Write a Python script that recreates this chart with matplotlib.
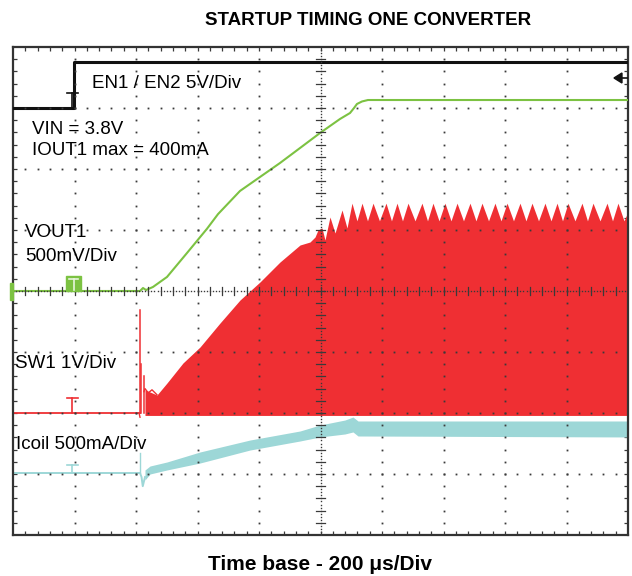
import numpy as np
import matplotlib.pyplot as plt
from matplotlib.patches import Rectangle, Polygon

plt.rcParams['font.family'] = ['Liberation Sans', 'DejaVu Sans']

# scope screen is 10 x 8 divisions, all values read off the capture in divisions
# EN1 / EN2 (black)
en_x = [0.0, 0.99, 0.99, 10.0]
en_y = [7.0, 7.0, 7.75, 7.75]

# VOUT1 (green)
vout_x = [0.0, 2.065, 2.114, 2.163, 2.276, 2.504, 2.829, 3.154, 3.333, 3.691,
          4.341, 4.667, 4.992, 5.317, 5.480, 5.545, 5.593, 5.675, 5.772, 10.0]
vout_y = [4.0, 4.0, 4.049, 4.016, 4.066, 4.230, 4.623, 5.020, 5.260, 5.640,
          6.098, 6.344, 6.590, 6.820, 6.918, 7.0, 7.066, 7.107, 7.131, 7.131]

# SW1 (red) - upper envelope of the switching node, baseline at 2 div
sw_base = 2.0
sw_x = [2.146, 2.228, 2.341, 2.504, 2.764, 3.041, 3.366, 3.691, 4.016, 4.341,
        4.667, 4.829, 4.911, 4.959, 5.024, 5.073, 5.154, 5.236, 5.350, 5.431,
        5.512, 5.593, 5.675, 5.764, 5.854, 5.959, 6.065, 6.154, 6.244, 6.333,
        6.423, 6.537, 6.650, 6.740, 6.829, 6.927, 7.024, 7.122, 7.220, 7.325,
        7.431, 7.528, 7.626, 7.732, 7.837, 7.935, 8.033, 8.138, 8.244, 8.341,
        8.439, 8.545, 8.650, 8.748, 8.846, 8.935, 9.024, 9.138, 9.252, 9.341,
        9.431, 9.545, 9.659, 9.748, 9.837, 9.935, 10.0]
sw_y = [2.377, 2.344, 2.295, 2.492, 2.820, 3.082, 3.475, 3.852, 4.148, 4.475,
        4.754, 4.803, 4.885, 5.0, 5.033, 4.836, 5.213, 4.951, 5.328, 5.033,
        5.44, 5.15, 5.44, 5.15, 5.44, 5.15, 5.44, 5.15, 5.44, 5.15,
        5.44, 5.15, 5.44, 5.15, 5.44, 5.15, 5.44, 5.15, 5.44, 5.15,
        5.44, 5.15, 5.44, 5.15, 5.44, 5.15, 5.44, 5.15, 5.44, 5.15,
        5.44, 5.15, 5.44, 5.15, 5.44, 5.15, 5.44, 5.15, 5.44, 5.15,
        5.44, 5.15, 5.44, 5.15, 5.44, 5.15, 5.30]
# start-up spikes on SW1: x, top
spike_x = [2.065, 2.081, 2.13]
spike_top = [3.69, 2.80, 2.60]

# Icoil (cyan) baseline at ~1 div, then ripple band
il_base = 1.016
il_x = [2.146, 2.228, 2.504, 3.041, 3.854, 4.667, 4.992, 5.398, 5.528, 5.610, 10.0]
il_top = [1.066, 1.131, 1.197, 1.361, 1.557, 1.705, 1.803, 1.885, 1.934, 1.869, 1.869]
il_bot = [0.902, 1.0, 1.066, 1.180, 1.393, 1.541, 1.607, 1.656, 1.689, 1.623, 1.607]

black = '#111111'
green = '#7cc242'
red = '#ef2f33'
cyan = '#9dd7d7'
gridc = '#3a3a3a'

fig = plt.figure(figsize=(6.32, 5.76), dpi=100)
ax = fig.add_axes([13/632, 41/576, 615/632, 488/576])
ax.set_xlim(0, 10)
ax.set_ylim(0, 8)

# traces
ax.plot(en_x, en_y, color=black, lw=2.2, zorder=4)
ax.fill_between(sw_x, sw_base - 0.04, sw_y, color=red, lw=0, zorder=2)
ax.plot([0, 2.065], [sw_base, sw_base], color=red, lw=1.3, zorder=2)
ax.plot([2.05, 2.065], [sw_base, 1.93], color=red, lw=1.0, zorder=2)
for sx, st in zip(spike_x, spike_top):
    ax.plot([sx, sx], [sw_base, st], color=red, lw=1.1, zorder=2)
ax.plot([2.13, 2.146, 2.2, 2.26, 2.34], [2.35, 2.40, 2.33, 2.38, 2.30], color=red, lw=1.0, zorder=2)

ax.plot([0, 2.065], [il_base, il_base], color=cyan, lw=1.4, zorder=2)
ax.plot([2.065, 2.065], [il_base, 1.344], color=cyan, lw=1.0, zorder=2)
ax.plot([2.065, 2.09, 2.11, 2.146], [il_base, 0.95, 0.80, 0.95], color=cyan, lw=1.4, zorder=2)
ax.fill_between(il_x, il_bot, il_top, color=cyan, lw=0, zorder=2)

ax.plot(vout_x, vout_y, color=green, lw=1.5, zorder=3)

# grid: dotted divisions, denser centre axes with ticks
minor = np.arange(0.2, 10, 0.2)
minor_y = np.arange(0.2, 8, 0.2)
for k in range(1, 10):
    if k == 5:
        continue
    ax.plot(np.full(len(minor_y), k), minor_y, 's', color=gridc, ms=1.3, mew=0, zorder=5)
for k in range(1, 8):
    if k == 4:
        continue
    ax.plot(minor, np.full(len(minor), k), 's', color=gridc, ms=1.3, mew=0, zorder=5)

cx = np.arange(0, 10, 0.05)
cy = np.arange(0, 8, 0.05)
ax.plot(cx, np.full(len(cx), 4), 's', color=gridc, ms=1.0, mew=0, zorder=5)
ax.plot(np.full(len(cy), 5), cy, 's', color=gridc, ms=1.0, mew=0, zorder=5)
for t in minor:
    ax.plot([t, t], [3.94, 4.06], color=gridc, lw=0.9, zorder=5)
for t in minor_y:
    ax.plot([4.93, 5.07], [t, t], color=gridc, lw=0.9, zorder=5)

# trace level markers
def tee(x, ytop, ybase, c):
    ax.plot([x - 0.09, x + 0.09], [ytop, ytop], color=c, lw=1.2, zorder=6)
    ax.plot([x, x], [ytop, ybase], color=c, lw=1.2, zorder=6)

tee(0.96, 7.25, 7.0, black)
tee(0.96, 2.246, 2.0, red)
tee(0.96, 1.148, 1.016, cyan)
ax.add_patch(Rectangle((0.862, 4.0), 0.244, 0.246, color=green, zorder=6))
ax.plot([0.91, 1.06], [4.19, 4.19], color='#e8f5dc', lw=1.2, zorder=7)
ax.plot([0.985, 0.985], [4.19, 4.02], color='#e8f5dc', lw=1.2, zorder=7)
ax.add_patch(Rectangle((-0.05, 3.85), 0.05, 0.28, color=green, zorder=6, clip_on=False))

# trigger level arrow on the right
ax.add_patch(Polygon([(9.772, 7.492), (9.902, 7.574), (9.902, 7.41)], closed=True,
                     color=black, zorder=6))
ax.plot([9.9, 10.0], [7.492, 7.492], color=black, lw=1.2, zorder=6)

# frame with small division ticks
for s in ax.spines.values():
    s.set_color('#333333')
    s.set_linewidth(1.6)
ax.set_xticks([])
ax.set_yticks([])
ax.set_xticks(minor, minor=True)
ax.set_yticks(minor_y, minor=True)
ax.tick_params(which='minor', direction='in', length=3, width=0.9, color=gridc,
               top=True, right=True, labelbottom=False, labelleft=False)

# labels
fs = 13.5
ax.text(1.285, 7.33, 'EN1 / EN2 5V/Div', fontsize=fs, va='baseline', zorder=8)
ax.text(0.31, 6.574, 'VIN = 3.8V', fontsize=fs, va='baseline', zorder=8)
ax.text(0.31, 6.23, 'IOUT1 max = 400mA', fontsize=fs, va='baseline', zorder=8)
ax.text(0.195, 4.885, 'VOUT1', fontsize=fs, va='baseline', zorder=8)
ax.text(0.195, 4.492, '500mV/Div', fontsize=fs, va='baseline', zorder=8)
ax.text(0.04, 2.738, 'SW1 1V/Div', fontsize=fs, va='baseline', zorder=8)
ax.text(0.05, 1.41, 'Icoil 500mA/Div', fontsize=fs, va='baseline', zorder=8)

fig.text(368/632, 551/576, 'STARTUP TIMING ONE CONVERTER', fontsize=13.5,
         fontweight='bold', ha='center', va='baseline')
fig.text(320/632, 6/576, 'Time base - 200 \u03bcs/Div', fontsize=15,
         fontweight='bold', ha='center', va='baseline')

fig.savefig('out.png', dpi=100)
